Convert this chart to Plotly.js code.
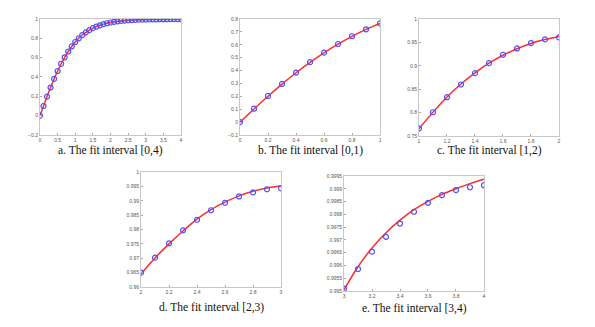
<!DOCTYPE html>
<html>
<head>
<meta charset="utf-8">
<script src="https://cdn.plot.ly/plotly-3.0.1.min.js"></script>
<style>
  html, body { margin: 0; padding: 0; background: #fff; }
  #myPlot { width: 595px; height: 327px; }
</style>
</head>
<body>
<div id="myPlot"></div>
<script>
// panel a: [0,4)
var xA = [0,0.1,0.2,0.3,0.4,0.5,0.6,0.7,0.8,0.9,1,1.1,1.2,1.3,1.4,1.5,1.6,1.7,1.8,1.9,2,
          2.1,2.2,2.3,2.4,2.5,2.6,2.7,2.8,2.9,3,3.1,3.2,3.3,3.4,3.5,3.6,3.7,3.8,3.9,4];
var ptsA = [0,0.100,0.197,0.291,0.380,0.462,0.537,0.604,0.664,0.716,0.762,0.800,0.834,0.862,0.885,0.905,0.922,0.935,0.947,0.956,0.964,
            0.970,0.976,0.980,0.984,0.987,0.989,0.991,0.993,0.994,0.995,0.996,0.997,0.997,0.998,0.998,0.998,0.999,0.999,0.999,0.999];
var fitA = ptsA;

// panel b: [0,1)
var xB = [0,0.1,0.2,0.3,0.4,0.5,0.6,0.7,0.8,0.9,1];
var ptsB = [0,0.104,0.203,0.296,0.384,0.465,0.539,0.606,0.666,0.720,0.766];
var fitB = [0,0.102,0.201,0.295,0.383,0.464,0.538,0.605,0.665,0.719,0.765];

// panel c: [1,2)
var xC = [1,1.1,1.2,1.3,1.4,1.5,1.6,1.7,1.8,1.9,2];
var ptsC = [0.7664,0.8007,0.8329,0.8600,0.8843,0.9057,0.9236,0.9371,0.9486,0.9564,0.9607];
var fitC = [0.7655,0.8010,0.8335,0.8610,0.8850,0.9055,0.9225,0.9365,0.9478,0.9560,0.9625];

// panel d: [2,3)
var xD = [2,2.1,2.2,2.3,2.4,2.5,2.6,2.7,2.8,2.9,3];
var ptsD = [0.9650,0.9702,0.9752,0.9797,0.9834,0.9867,0.9893,0.9915,0.9929,0.9940,0.9943];
var fitD = [0.9646,0.9701,0.9750,0.9795,0.9836,0.9869,0.9895,0.9917,0.9933,0.9944,0.9952];

// panel e: [3,4)
var xE = [3,3.1,3.2,3.3,3.4,3.5,3.6,3.7,3.8,3.9,4];
var ptsE = [0.99509,0.99586,0.99654,0.99712,0.99764,0.99810,0.99845,0.99875,0.99895,0.99906,0.99914];
var fitE = [0.99505,0.99595,0.99668,0.99728,0.99777,0.99818,0.99851,0.99878,0.99900,0.99920,0.99937];

var titles = ["a. The fit interval [0,4)", "b. The fit interval [0,1)", "c. The fit interval [1,2)",
              "d. The fit interval [2,3)", "e. The fit interval [3,4)"];

var panels = [
  {x: xA, pts: ptsA, fit: fitA, xr: [0,4], xd: 0.5, yr: [-0.2,1], yd: 0.2, dx: [0.0672,0.3042], dy: [0.5872,0.9419], ty: 150},
  {x: xB, pts: ptsB, fit: fitB, xr: [0,1], xd: 0.2, yr: [-0.1,0.8], yd: 0.1, dx: [0.4034,0.6387], dy: [0.5872,0.9419], ty: 150},
  {x: xC, pts: ptsC, fit: fitC, xr: [1,2], xd: 0.2, yr: [0.75,1], yd: 0.05, dx: [0.7042,0.9395], dy: [0.5841,0.9419], ty: 150},
  {x: xD, pts: ptsD, fit: fitD, xr: [2,3], xd: 0.2, yr: [0.96,1], yd: 0.005, dx: [0.2370,0.4723], dy: [0.1223,0.4740], ty: 307},
  {x: xE, pts: ptsE, fit: fitE, xr: [3,4], xd: 0.2, yr: [0.995,0.9995], yd: 0.0005, dx: [0.5782,0.8134], dy: [0.1101,0.4618], ty: 308}
];

var data = [];
var layout = {
  width: 595, height: 327,
  margin: {l: 0, r: 0, t: 0, b: 0},
  showlegend: false,
  paper_bgcolor: "#fff",
  plot_bgcolor: "#fff",
  annotations: []
};

panels.forEach(function (p, i) {
  var n = i === 0 ? "" : String(i + 1);
  data.push({
    x: p.x, y: p.fit, xaxis: "x" + n, yaxis: "y" + n,
    mode: "lines", line: {color: "#ff2a2a", width: 1.5, shape: "spline"}
  });
  data.push({
    x: p.x, y: p.pts, xaxis: "x" + n, yaxis: "y" + n,
    mode: "markers", marker: {symbol: "circle-open", size: 5, color: "#5050ff", line: {width: 1.2}}
  });
  var ax = {
    showline: true, mirror: true, linecolor: "#c8c8c8", linewidth: 1,
    ticks: "inside", ticklen: 2, tickcolor: "#aaa",
    showgrid: false, zeroline: false,
    tickfont: {family: "Liberation Sans", size: 5, color: "#555"}
  };
  layout["xaxis" + n] = Object.assign({}, ax, {
    domain: p.dx, range: p.xr, dtick: p.xd, tick0: p.xr[0], anchor: "y" + n
  });
  layout["yaxis" + n] = Object.assign({}, ax, {
    domain: p.dy, range: p.yr, dtick: p.yd, tick0: p.yr[0], anchor: "x" + n
  });
  layout.annotations.push({
    text: titles[i], xref: "paper", yref: "paper",
    x: (p.dx[0] + p.dx[1]) / 2, y: 1 - p.ty / 327,
    xanchor: "center", yanchor: "middle", showarrow: false,
    font: {family: "Liberation Serif", size: 11.5, color: "#111"}
  });
});

Plotly.newPlot("myPlot", data, layout, {displayModeBar: false, staticPlot: true});
</script>
</body>
</html>
